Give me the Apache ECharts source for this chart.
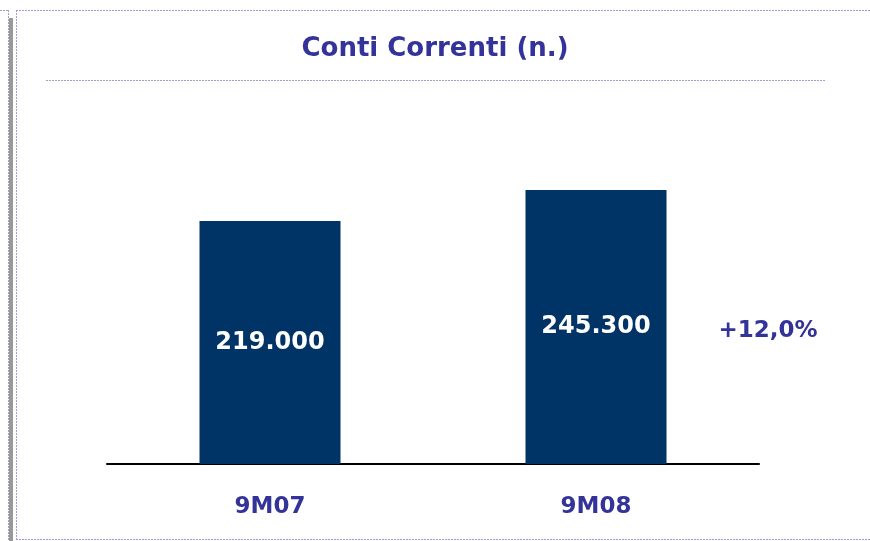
<!DOCTYPE html>
<html>
<head>
<meta charset="utf-8">
<script src="https://cdn.jsdelivr.net/npm/echarts@6/dist/echarts.min.js"></script>
<style>
  html, body { margin: 0; padding: 0; background: #fff; }
  #chart { width: 870px; height: 541px; }
</style>
</head>
<body>
<div id="chart"></div>
<script>
// dati del grafico
const categories = ["9M07", "9M08"];
const values = [219000, 245300];
const titleText = "Conti Correnti (n.)";
const growthText = "+12,0%";

const blue = "#333399";
const barColor = "#003366";
const dashColor = "#a0a0d0";
const font = "DejaVu Sans";

// 245300 -> "245.300"
function fmt(v) {
  return String(v).replace(/\B(?=(\d{3})+(?!\d))/g, ".");
}

const chart = echarts.init(document.getElementById("chart"));

const option = {
  animation: false,
  backgroundColor: "#fff",
  title: {
    text: titleText,
    left: "center",
    top: 31,
    textStyle: {
      fontFamily: font,
      fontSize: 26,
      fontWeight: "bold",
      color: blue,
    },
  },
  grid: {
    left: 107,
    right: 111,
    top: 100,
    bottom: 77,
  },
  xAxis: {
    type: "category",
    data: categories,
    axisLine: { lineStyle: { color: "#000", width: 2 } },
    axisTick: { show: false },
    axisLabel: {
      margin: 32,
      fontFamily: font,
      fontSize: 23,
      fontWeight: "bold",
      color: blue,
    },
  },
  yAxis: {
    type: "value",
    min: 12000,
    max: 322000,
    show: false,
    splitLine: { show: false },
  },
  series: [
    {
      type: "bar",
      data: values,
      barWidth: 141,
      itemStyle: { color: barColor },
      label: {
        show: true,
        position: "inside",
        formatter: (p) => fmt(p.value),
        fontFamily: font,
        fontSize: 24,
        fontWeight: "bold",
        color: "#fff",
      },
    },
  ],
  graphic: [
    // cornice tratteggiata
    { type: "line", shape: { x1: 0, y1: 10.5, x2: 8, y2: 10.5 }, style: { stroke: dashColor, lineWidth: 1, lineDash: [2, 1] } },
    { type: "line", shape: { x1: 8.5, y1: 10, x2: 8.5, y2: 541 }, style: { stroke: dashColor, lineWidth: 1, lineDash: [2, 1] } },
    { type: "rect", shape: { x: 9, y: 18, width: 4, height: 523 }, style: { fill: "#999999" } },
    { type: "line", shape: { x1: 16.5, y1: 10, x2: 16.5, y2: 539 }, style: { stroke: dashColor, lineWidth: 1, lineDash: [2, 1] } },
    { type: "line", shape: { x1: 16, y1: 10.5, x2: 870, y2: 10.5 }, style: { stroke: dashColor, lineWidth: 1, lineDash: [2, 1] } },
    { type: "line", shape: { x1: 16, y1: 539.5, x2: 870, y2: 539.5 }, style: { stroke: dashColor, lineWidth: 1, lineDash: [2, 1] } },
    // riga sotto il titolo
    { type: "line", shape: { x1: 46, y1: 80.5, x2: 825, y2: 80.5 }, style: { stroke: dashColor, lineWidth: 1, lineDash: [2, 1] } },
    // variazione
    {
      type: "text",
      x: 768,
      y: 331,
      style: {
        text: growthText,
        align: "center",
        verticalAlign: "middle",
        fontFamily: font,
        fontSize: 23,
        fontWeight: "bold",
        fill: blue,
      },
    },
  ],
};

chart.setOption(option);
</script>
</body>
</html>
